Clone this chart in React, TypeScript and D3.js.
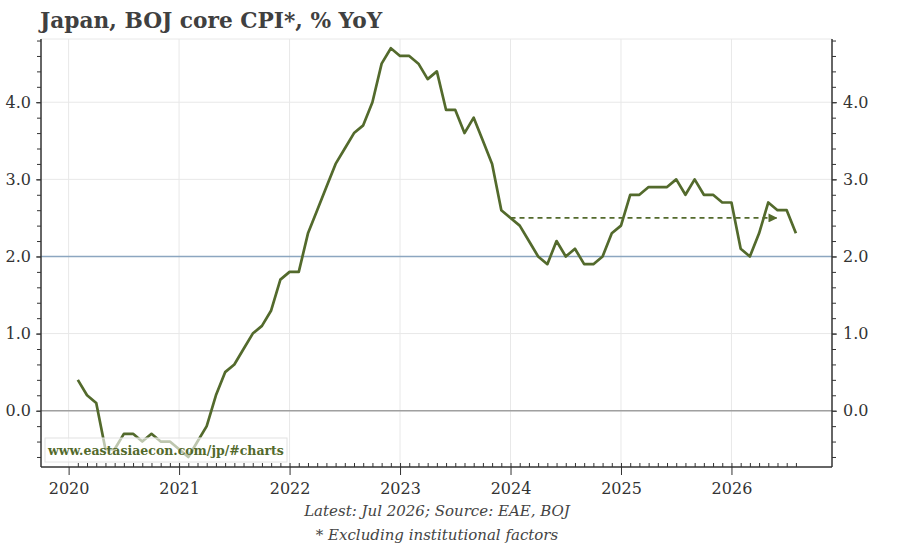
import { useEffect, useRef } from 'react';
import * as d3 from 'd3';

// BOJ core CPI (excl. institutional factors), % YoY, monthly from Jan 2020
const startYear = 2020;
const cpi: number[] = [
  0.4, 0.2, 0.1, -0.5, -0.5, -0.3, -0.3, -0.4, -0.3, -0.4, -0.4, -0.5,
  -0.6, -0.4, -0.2, 0.2, 0.5, 0.6, 0.8, 1.0, 1.1, 1.3, 1.7, 1.8,
  1.8, 2.3, 2.6, 2.9, 3.2, 3.4, 3.6, 3.7, 4.0, 4.5, 4.7, 4.6,
  4.6, 4.5, 4.3, 4.4, 3.9, 3.9, 3.6, 3.8, 3.5, 3.2, 2.6, 2.5,
  2.4, 2.2, 2.0, 1.9, 2.2, 2.0, 2.1, 1.9, 1.9, 2.0, 2.3, 2.4,
  2.8, 2.8, 2.9, 2.9, 2.9, 3.0, 2.8, 3.0, 2.8, 2.8, 2.7, 2.7,
  2.1, 2.0, 2.3, 2.7, 2.6, 2.6, 2.3,
];
const yearTicks = [2020, 2021, 2022, 2023, 2024, 2025, 2026];
const valueTicks = [0, 1, 2, 3, 4];
const target = 2.0;
// dashed "flat" arrow: Dec 2023 -> May 2026 at 2.5
const arrowFrom = 2024.0;
const arrowTo = 2026 + 5 / 12;
const arrowLevel = 2.5;

const title = 'Japan, BOJ core CPI*, % YoY';
const footer1 = 'Latest: Jul 2026; Source: EAE, BOJ';
const footer2 = '* Excluding institutional factors';
const watermark = 'www.eastasiaecon.com/jp/#charts';

const GREEN = '#536a2c';
const SERIF = '"DejaVu Serif", Georgia, serif';

export default function App() {
  const svgRef = useRef<SVGSVGElement>(null);

  useEffect(() => {
    if (!svgRef.current) return;
    const svg = d3.select(svgRef.current);
    svg.selectAll('*').remove();

    const left = 41, right = 832, top = 39, bottom = 467;
    const x = d3.scaleLinear().domain([2019.75, 2026.91]).range([left, right]);
    const y = d3.scaleLinear().domain([-0.73, 4.82]).range([bottom, top]);

    const data = cpi.map((v, i) => ({ t: startYear + (i + 1) / 12, v }));

    // grid
    const grid = svg.append('g');
    grid.selectAll('line.h')
      .data(valueTicks)
      .join('line')
      .attr('x1', left).attr('x2', right)
      .attr('y1', d => y(d)).attr('y2', d => y(d))
      .attr('stroke', '#e8e8e8');
    grid.selectAll('line.v')
      .data(yearTicks)
      .join('line')
      .attr('class', 'v')
      .attr('x1', d => x(d)).attr('x2', d => x(d))
      .attr('y1', top).attr('y2', bottom)
      .attr('stroke', '#e8e8e8');
    grid.append('line')
      .attr('x1', left).attr('x2', right).attr('y1', top).attr('y2', top)
      .attr('stroke', '#e8e8e8');

    // zero and target lines
    svg.append('line')
      .attr('x1', left).attr('x2', right)
      .attr('y1', y(0)).attr('y2', y(0))
      .attr('stroke', '#a0a0a0').attr('stroke-width', 1.5);
    svg.append('line')
      .attr('x1', left).attr('x2', right)
      .attr('y1', y(target)).attr('y2', y(target))
      .attr('stroke', '#8ca6c0').attr('stroke-width', 1.5);

    // dashed arrow
    svg.append('defs').append('marker')
      .attr('id', 'arrow')
      .attr('viewBox', '0 0 10 10')
      .attr('refX', 10).attr('refY', 5)
      .attr('markerWidth', 9).attr('markerHeight', 9)
      .attr('markerUnits', 'userSpaceOnUse')
      .attr('orient', 'auto')
      .append('path')
      .attr('d', 'M0,0L10,5L0,10Z')
      .attr('fill', GREEN);
    svg.append('line')
      .attr('x1', x(arrowFrom)).attr('x2', x(arrowTo))
      .attr('y1', y(arrowLevel)).attr('y2', y(arrowLevel))
      .attr('stroke', GREEN).attr('stroke-width', 1.8)
      .attr('stroke-dasharray', '5,4')
      .attr('marker-end', 'url(#arrow)');

    // series
    const line = d3.line<{ t: number; v: number }>()
      .x(d => x(d.t))
      .y(d => y(d.v));
    svg.append('path')
      .datum(data)
      .attr('fill', 'none')
      .attr('stroke', GREEN)
      .attr('stroke-width', 2.7)
      .attr('stroke-linejoin', 'round')
      .attr('d', line);

    // axes
    const axisColor = '#333';
    const minorY = d3.range(-0.6, 4.81, 0.2).map(v => Math.round(v * 10) / 10);

    const leftAxis = svg.append('g').attr('transform', `translate(${left},0)`);
    leftAxis.call(d3.axisLeft(y).tickValues(minorY).tickSize(4).tickFormat(() => ''));
    leftAxis.append('g').call(
      d3.axisLeft(y).tickValues(valueTicks).tickSize(5).tickPadding(5).tickFormat(d3.format('.1f'))
    );

    const rightAxis = svg.append('g').attr('transform', `translate(${right},0)`);
    rightAxis.call(d3.axisRight(y).tickValues(minorY).tickSize(4).tickFormat(() => ''));
    rightAxis.append('g').call(
      d3.axisRight(y).tickValues(valueTicks).tickSize(5).tickPadding(6).tickFormat(d3.format('.1f'))
    );

    const bottomAxis = svg.append('g').attr('transform', `translate(0,${bottom})`);
    bottomAxis.call(
      d3.axisBottom(x).tickValues(data.map(d => d.t)).tickSize(-4).tickFormat(() => '')
    );
    bottomAxis.append('g').call(
      d3.axisBottom(x).tickValues(yearTicks).tickSize(8).tickPadding(8).tickFormat(d3.format('d'))
    );

    svg.selectAll('.domain')
      .attr('stroke', axisColor).attr('stroke-width', 1.5);
    svg.selectAll('.tick line').attr('stroke', axisColor);
    svg.selectAll('.tick text')
      .attr('fill', '#333')
      .style('font-family', SERIF)
      .style('font-size', '16px');

    // hide the duplicate domain of the inner groups so widths do not add up
    leftAxis.select('g .domain').remove();
    rightAxis.select('g .domain').remove();
    bottomAxis.select('g .domain').remove();
    bottomAxis.select('.domain').attr('d', `M${left},0H${right}`);
    leftAxis.select('.domain').attr('d', `M0,${top}V${bottom}`);
    rightAxis.select('.domain').attr('d', `M0,${top}V${bottom}`);

    // watermark
    svg.append('rect')
      .attr('x', 45).attr('y', 438).attr('width', 242).attr('height', 24)
      .attr('fill', 'white').attr('fill-opacity', 0.62)
      .attr('stroke', '#e2e2e2');
    svg.append('text')
      .attr('x', 166).attr('y', 455)
      .attr('text-anchor', 'middle')
      .attr('fill', GREEN)
      .style('font-family', SERIF)
      .style('font-weight', 'bold')
      .style('font-size', '12.5px')
      .text(watermark);

    // title and footers
    svg.append('text')
      .attr('x', 40).attr('y', 28)
      .attr('fill', '#404040')
      .style('font-family', SERIF)
      .style('font-weight', 'bold')
      .style('font-size', '21.7px')
      .text(title);
    svg.append('text')
      .attr('x', 437).attr('y', 516)
      .attr('text-anchor', 'middle')
      .attr('fill', '#444')
      .style('font-family', SERIF)
      .style('font-style', 'italic')
      .style('font-size', '15px')
      .text(footer1);
    svg.append('text')
      .attr('x', 437).attr('y', 540)
      .attr('text-anchor', 'middle')
      .attr('fill', '#444')
      .style('font-family', SERIF)
      .style('font-style', 'italic')
      .style('font-size', '15px')
      .text(footer2);
  }, []);

  return (
    <svg
      ref={svgRef}
      width={900}
      height={546}
      style={{ position: 'absolute', left: 0, top: 0, background: 'white' }}
    />
  );
}
